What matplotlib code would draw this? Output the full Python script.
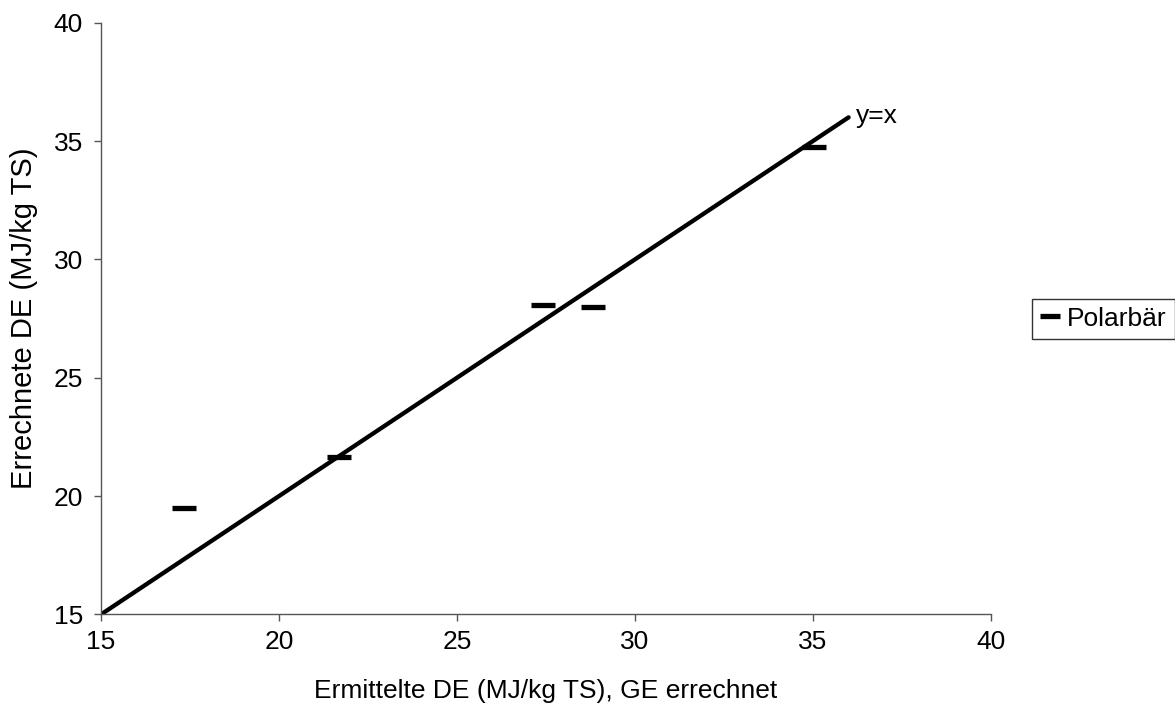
import matplotlib
matplotlib.use("Agg")
import matplotlib.pyplot as plt

plt.rcParams['font.family'] = ['Liberation Sans', 'DejaVu Sans']

# Polarbär: determined vs. calculated digestible energy (MJ/kg TS)
ermittelt = [17.33, 21.69, 27.42, 28.82, 35.03]
errechnet = [19.50, 21.64, 28.06, 28.00, 34.73]

# reference line y = x
ref_line = [15, 36]

x_ticks = [15, 20, 25, 30, 35, 40]
y_ticks = [15, 20, 25, 30, 35, 40]

fig = plt.figure(figsize=(11.75, 7.13), dpi=100)
ax = fig.add_axes([0.086, 0.1383, 0.7574, 0.8299])

ax.plot(ref_line, ref_line, color='black', linewidth=3.1, solid_capstyle='round', zorder=2)
ax.text(ref_line[1] + 0.2, ref_line[1] + 0.05, 'y=x', fontsize=19, va='center', ha='left')

ax.plot(ermittelt, errechnet, linestyle='none', marker='_', markersize=17,
        markeredgewidth=3.8, color='black', label='Polarbär', zorder=3)

ax.set_xlim(15, 40)
ax.set_ylim(15, 40)
ax.set_xticks(x_ticks)
ax.set_yticks(y_ticks)

for side in ('top', 'right'):
    ax.spines[side].set_visible(False)
for side in ('left', 'bottom'):
    ax.spines[side].set_color('#555555')
    ax.spines[side].set_linewidth(1.0)

ax.tick_params(direction='out', length=5, width=1.0, color='#555555',
               labelsize=19)
ax.tick_params(axis='x', pad=6)
ax.tick_params(axis='y', pad=8)

ax.set_xlabel('Ermittelte DE (MJ/kg TS), GE errechnet', fontsize=19, va='center')
ax.set_ylabel('Errechnete DE (MJ/kg TS)', fontsize=21, va='center')
ax.xaxis.set_label_coords(0.5, -0.1295)
ax.yaxis.set_label_coords(-0.0865, 0.5)

leg = fig.legend(handles=[ax.lines[1]], labels=['Polarbär'], loc='center left',
                 bbox_to_anchor=(0.878, 0.553), fontsize=19, frameon=True,
                 fancybox=False, framealpha=1, edgecolor='#333333',
                 handlelength=0.8, handletextpad=0.25, borderpad=0.3,
                 borderaxespad=0)
leg.get_frame().set_linewidth(1.0)
leg.legend_handles[0].set_markersize(15)

fig.savefig('out.png', dpi=100)
